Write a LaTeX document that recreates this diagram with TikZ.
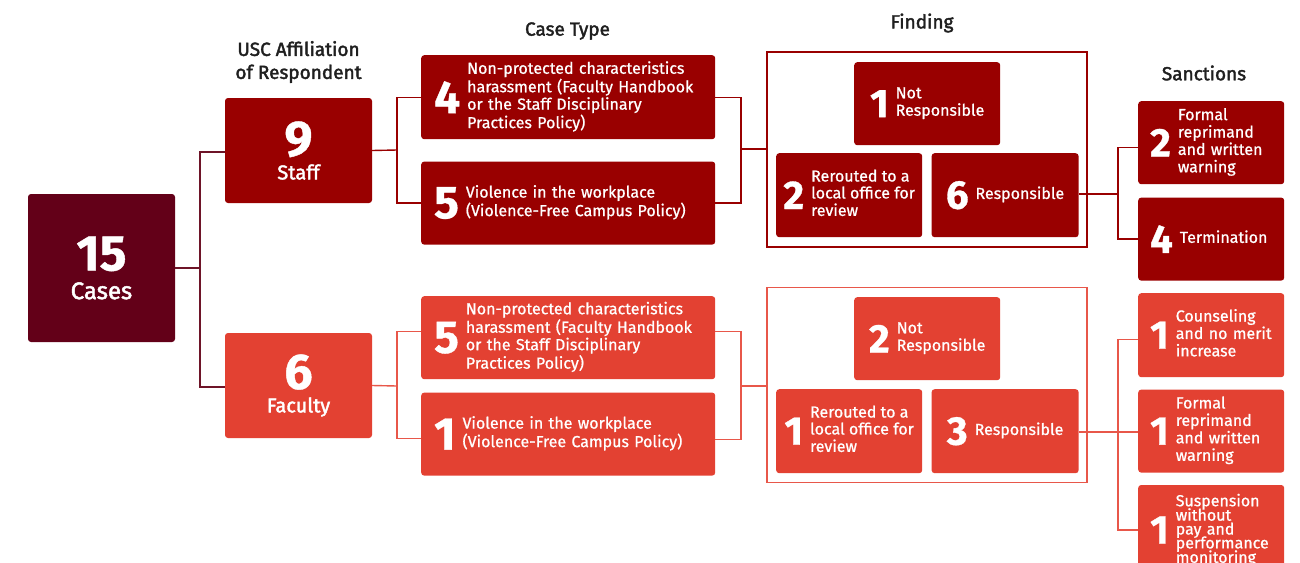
\documentclass[tikz,border=0pt]{standalone}
\usepackage{fontspec}
\setmainfont{Fira Sans}[FakeBold=0.8]
\newfontfamily\headfont{Fira Sans}[FakeBold=2]
\usepackage{tikz}
\usepackage{xcolor}
\usetikzlibrary{positioning}
\usetikzlibrary{calc}

\definecolor{caseRed}{HTML}{630018}
\definecolor{caseLine}{HTML}{6E1428}
\definecolor{staffRed}{HTML}{990000}
\definecolor{facRed}{HTML}{E34132}
\definecolor{facLine}{HTML}{E8574A}
\definecolor{headGray}{HTML}{1F1F1F}

% number beside a block of lines
\newcommand{\numrow}[3][46]{\noindent$\vcenter{\hbox{\fontsize{#1}{#1}\selectfont\bfseries #2}}$\hspace{7pt}$\vcenter{\hbox{\begin{tabular}{@{}l@{}}#3\end{tabular}}}$}
\newcommand{\bignum}[3][7pt]{{\fontsize{50}{44}\selectfont\bfseries #2}\\[#1]{\headfont\fontsize{20}{22}\selectfont #3}}

\begin{document}
\begin{tikzpicture}[
x=1pt, y=-1pt,
node distance = 13pt,
box/.style={rectangle, rounded corners=3pt, text=white, inner xsep=13pt, inner ysep=0pt,
  font=\fontsize{16}{16.5}\selectfont},
staffbox/.style={box, fill=staffRed},
facbox/.style={box, fill=facRed},
wide/.style={text width=268pt, minimum height=84pt, align=left},
narrow/.style={minimum width=146pt, minimum height=84pt, inner xsep=3pt, align=center},
sanct/.style={text width=122pt, inner xsep=12pt, minimum height=83pt, align=left},
frame/.style={rectangle, draw, line width=1.4pt, minimum width=320pt, minimum height=195pt},
head/.style={text=headGray, align=center, font=\headfont\fontsize{19}{23}\selectfont},
slink/.style={draw=staffRed, line width=1.4pt},
flink/.style={draw=facLine, line width=1.4pt}]
\useasboundingbox (0,0) rectangle (1300,562);
\clip (0,0) rectangle (1300,562);

% column heads
\node[head] (haff) at (298.5,62) {USC Affiliation\\of Respondent};
\node[head] (htype) at (567.5,31) {Case Type};
\node[head] (hfind) at (922,23) {Finding};
\node[head] (hsanc) at (1204,73) {Sanctions};

% affiliation
\node[box, fill=caseRed, minimum width=147pt, minimum height=148pt, align=center] (cases) at (101.5,268) {\bignum[10pt]{15}{\fontsize{24}{26}\selectfont Cases}};
\node[staffbox, minimum width=147pt, minimum height=105pt, align=center] (staff) at (298.5,150.5) {\bignum{9}{Staff}};
\node[facbox, minimum width=147pt, minimum height=105pt, align=center] (fac) at (298.5,385.5) {\bignum{6}{Faculty}};

% case type
\node[staffbox, wide, anchor=north west] (st1) at (421,55) {\numrow{4}{Non-protected characteristics\\harassment (Faculty Handbook\\or the Staff Disciplinary\\Practices Policy)}};
\node[staffbox, wide, minimum height=83pt] (st2) [below=22pt of st1] {\numrow{5}{Violence in the workplace\\(Violence-Free Campus Policy)}};
\node[facbox, wide, minimum height=83pt, anchor=north west] (fc1) at (421,296) {\numrow{5}{Non-protected characteristics\\harassment (Faculty Handbook\\or the Staff Disciplinary\\Practices Policy)}};
\node[facbox, wide, minimum height=83pt] (fc2) [below=of fc1] {\numrow{1}{Violence in the workplace\\(Violence-Free Campus Policy)}};

% finding
\node[frame, draw=staffRed] (sfind) at (927,149.5) {};
\node[staffbox, narrow, minimum height=83pt, anchor=north west] (snr) at (854,62) {\numrow[40]{1}{Not\\Responsible}};
\node[staffbox, narrow, anchor=north west] (srr) at (776,153) {\numrow[40]{2}{Rerouted to a\\local office for\\review}};
\node[staffbox, narrow, minimum width=147pt] (srs) [right=9pt of srr] {\numrow[40]{6}{Responsible}};
\node[frame, draw=facLine] (ffind) at (927,385) {};
\node[facbox, narrow, minimum height=83pt, anchor=north west] (fnr) at (854,297) {\numrow[40]{2}{Not\\Responsible}};
\node[facbox, narrow, anchor=north west] (frr) at (776,389) {\numrow[40]{1}{Rerouted to a\\local office for\\review}};
\node[facbox, narrow, minimum width=147pt] (frs) [right=9pt of frr] {\numrow[40]{3}{Responsible}};

% sanctions
\node[staffbox, sanct, anchor=north west] (ss1) at (1138,101) {\numrow[40]{2}{Formal\\reprimand\\and written\\warning}};
\node[staffbox, sanct] (ss2) [below=of ss1] {\numrow[40]{4}{Termination}};
\node[facbox, sanct, minimum height=84pt, anchor=north west] (fs1) at (1138,293) {\numrow[40]{1}{Counseling\\and no merit\\increase}};
\node[facbox, sanct] (fs2) [below=12pt of fs1] {\numrow[40]{1}{Formal\\reprimand\\and written\\warning}};
\node[facbox, sanct, minimum height=90pt, font={\fontsize{16}{14}\selectfont\def\arraystretch{0.8}}] (fs3) [below=12pt of fs2] {\numrow[40]{1}{Suspension\\[-1.5pt]without\\[-1.5pt]pay and\\[-1.5pt]performance\\[-1.5pt]monitoring}};

% junctions
\coordinate (cj) at (200,268);
\coordinate (sj) at (397,150);
\coordinate (fj) at (397,386);
\coordinate (stj) at (741,149);
\coordinate (ftj) at (741,386);
\coordinate (ssj) at (1118,194);
\coordinate (fsj) at (1118,432);

% links
\draw[draw=caseLine, line width=1.4pt] (cases.east) -- (cj);
\draw[draw=caseLine, line width=1.4pt] ([yshift=-1.5pt]staff.west) -| (cj) |- ([yshift=-1.5pt]fac.west);
\draw[slink] (staff.east) -- (sj);
\draw[slink] (st1.west) -| (sj) |- (st2.west);
\draw[slink] (st1.east) -| (stj) |- (st2.east);
\draw[slink] (stj) -- (sfind.west |- stj);
\draw[flink] (fac.east) -- (fj);
\draw[flink] ([yshift=6.5pt]fc1.west) -| (fj) |- ([yshift=-4.5pt]fc2.west);
\draw[flink] ([yshift=6.5pt]fc1.east) -| (ftj) |- ([yshift=-5.5pt]fc2.east);
\draw[flink] (ftj) -- (ffind.west |- ftj);
\draw[slink] (srs.east |- ssj) -- (ssj);
\draw[slink] ([yshift=-4.5pt]ss1.west) -| (ssj) |- (ss2.west);
\draw[flink] (frs.east |- fsj) -- (fsj);
\draw[flink] ([yshift=-4pt]fs1.west) -| (fsj) |- (fs3.west);
\draw[flink] (fsj) -- (fs2.west |- fsj);
\end{tikzpicture}
\end{document}
